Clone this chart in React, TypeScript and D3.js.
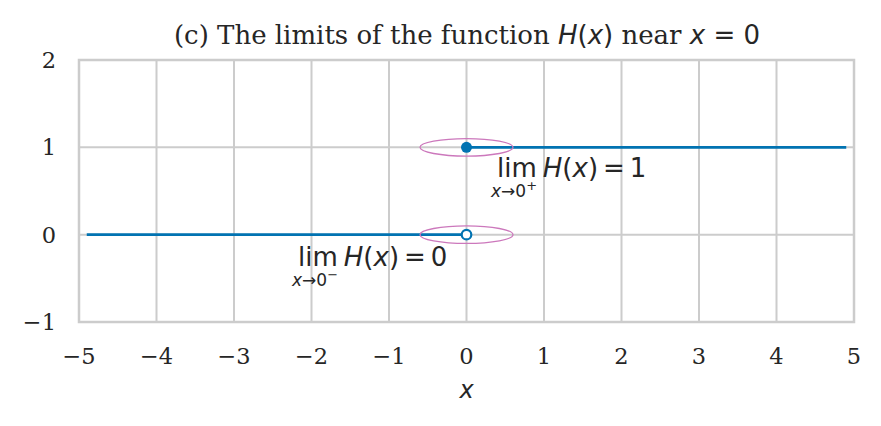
import React from "react";
import * as d3 from "d3";

const W = 881, H = 426;
const xTicks = [-5, -4, -3, -2, -1, 0, 1, 2, 3, 4, 5];
const yTicks = [-1, 0, 1, 2];
const leftX = [-4.9, 0];
const leftY = [0, 0];
const rightX = [0, 4.9];
const rightY = [1, 1];
const ellipseCenters = [[0, 1], [0, 0]];
const ellipseRx = 0.6;
const ellipseRy = 0.1;

const blue = "#0173b2";
const pink = "#cc78bc";
const grid = "#cccccc";
const serif = "'DejaVu Serif', serif";
const sans = "'DejaVu Sans', sans-serif";

export default function App() {
  const x = d3.scaleLinear().domain([-5, 5]).range([79, 854]);
  const y = d3.scaleLinear().domain([-1, 2]).range([322, 60]);
  const line = d3.line<[number, number]>().x(d => x(d[0])).y(d => y(d[1]));
  const leftPts = leftX.map((v, i) => [v, leftY[i]] as [number, number]);
  const rightPts = rightX.map((v, i) => [v, rightY[i]] as [number, number]);
  const textColor = "#262626";

  const limLabel = (xPos: number, yPos: number, val: string, sign: string) => (
    <g>
      <text x={xPos} y={yPos} fontFamily={sans} fontSize={26} fill={textColor}>
        <tspan>lim</tspan>
        <tspan dx={6} fontStyle="italic">H</tspan>
        <tspan>(</tspan>
        <tspan fontStyle="italic">x</tspan>
        <tspan>)</tspan>
        <tspan dx={5}>=</tspan>
        <tspan dx={5}>{val}</tspan>
      </text>
      <text x={xPos - 6} y={yPos + 20} fontFamily={sans} fontSize={17} fill={textColor}>
        <tspan fontStyle="italic">x</tspan>
        <tspan>→0</tspan>
        <tspan dy={-7} fontSize={13}>{sign}</tspan>
      </text>
    </g>
  );

  return (
    <svg width={W} height={H} style={{ position: "absolute", left: 0, top: 0, background: "#fff" }}>
      <rect x={0} y={0} width={W} height={H} fill="#fff" />
      {xTicks.map(t => (
        <line key={"gx" + t} x1={x(t)} x2={x(t)} y1={y(-1)} y2={y(2)} stroke={grid} strokeWidth={2} />
      ))}
      {yTicks.map(t => (
        <line key={"gy" + t} x1={x(-5)} x2={x(5)} y1={y(t)} y2={y(t)} stroke={grid} strokeWidth={2} />
      ))}
      <rect x={x(-5)} y={y(2)} width={x(5) - x(-5)} height={y(-1) - y(2)} fill="none" stroke={grid} strokeWidth={2.5} />
      <path d={line(leftPts) || ""} fill="none" stroke={blue} strokeWidth={2.6} />
      <path d={line(rightPts) || ""} fill="none" stroke={blue} strokeWidth={2.6} />
      <circle cx={x(0)} cy={y(1)} r={5.5} fill={blue} />
      <circle cx={x(0)} cy={y(0)} r={4.8} fill="#fff" stroke={blue} strokeWidth={2.2} />
      {ellipseCenters.map((c, i) => (
        <ellipse key={i} cx={x(c[0])} cy={y(c[1])} rx={x(ellipseRx) - x(0)} ry={y(0) - y(ellipseRy)} fill="none" stroke={pink} strokeWidth={1.3} />
      ))}
      {xTicks.map(t => (
        <text key={"tx" + t} x={x(t)} y={364} textAnchor="middle" fontFamily={serif} fontSize={22.5} fill={textColor}>
          {t < 0 ? "\u2212" + Math.abs(t) : String(t)}
        </text>
      ))}
      {yTicks.map(t => (
        <text key={"ty" + t} x={56} y={y(t) + 8} textAnchor="end" fontFamily={serif} fontSize={22.5} fill={textColor}>
          {t < 0 ? "\u2212" + Math.abs(t) : String(t)}
        </text>
      ))}
      <text x={x(0)} y={398} textAnchor="middle" fontFamily={sans} fontStyle="italic" fontSize={24} fill={textColor}>x</text>
      <text x={467} y={44} textAnchor="middle" fontFamily={serif} fontSize={26} fill={textColor}>
        <tspan>(c) The limits of the function </tspan>
        <tspan fontFamily={sans} fontStyle="italic">H</tspan>
        <tspan fontFamily={sans}>(</tspan>
        <tspan fontFamily={sans} fontStyle="italic">x</tspan>
        <tspan fontFamily={sans}>)</tspan>
        <tspan> near </tspan>
        <tspan fontFamily={sans} fontStyle="italic">x</tspan>
        <tspan fontFamily={sans}> = 0</tspan>
      </text>
      {limLabel(497, 177, "1", "+")}
      {limLabel(298, 266, "0", "\u2212")}
    </svg>
  );
}
